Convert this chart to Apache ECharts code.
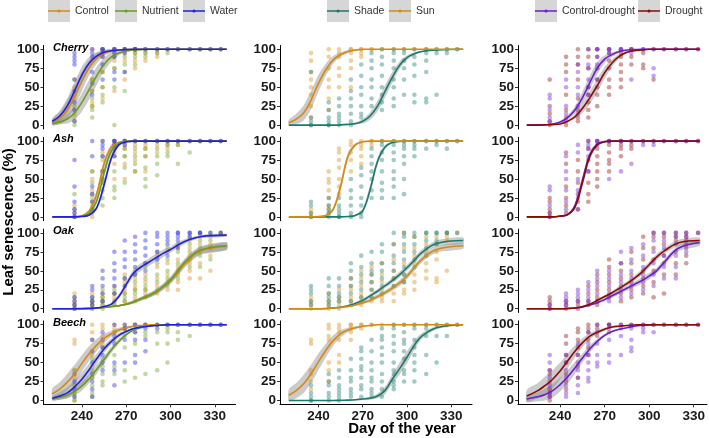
<!DOCTYPE html>
<html><head><meta charset="utf-8">
<script src="https://cdn.jsdelivr.net/npm/echarts@6/dist/echarts.min.js"></script>
<style>html,body{margin:0;padding:0;background:#fff}#c{width:709px;height:438px}</style>
</head><body><div id="c"></div><script>
// ---------- DATA ----------
const rowNames = ['Cherry', 'Ash', 'Oak', 'Beech'];
const xTicks = [240, 270, 300, 330];
const yTicks = [0, 25, 50, 75, 100];
const obsDays = [235, 247, 254, 262, 269, 276, 283, 291, 298, 305, 313, 320, 327, 334];
const obsDaysDrought = [233, 244, 252, 259, 265, 273, 281, 288, 296, 303, 310, 318, 325, 333];
const curveDays = [220, 225, 230, 235, 240, 245, 250, 255, 260, 265, 270, 275, 280, 285, 290, 295, 300, 305, 310, 320, 338];
const curveDaysDrought = [217.5, 225, 230, 235, 240, 245, 250, 255, 260, 265, 270, 275, 280, 285, 290, 295, 300, 305, 310, 320, 334];

// fitted curves (mid) and half-width of confidence band
const cherryControlFit = [4,9,20,38,58,76,88,95,98,99,99.7,100,100,100,100,100,100,100,100,100,100];
const cherryControlBand = [4,8,12,14,13,10,7,4,2,1,0.5,0.3,0,0,0,0,0,0,0,0,0];
const cherryNutrientFit = [2,4,8,16,30,47,65,80,90,95,98,99,99.6,100,100,100,100,100,100,100,100];
const cherryNutrientBand = [2,3,6,9,12,13,12,9,6,3,2,1,0.5,0,0,0,0,0,0,0,0];
const cherryWaterFit = [5,12,25,45,66,82,91,96,98,99,99.7,100,100,100,100,100,100,100,100,100,100];
const cherryWaterBand = [4,7,10,12,11,8,5,3,2,1,0.5,0.3,0,0,0,0,0,0,0,0,0];
const ashControlFit = [0,0,0,0.2,1.5,8,30,70,92,98,99.6,100,100,100,100,100,100,100,100,100,100];
const ashControlBand = [0,0,0,0,0.5,2,5,6,4,1.5,0.5,0,0,0,0,0,0,0,0,0,0];
const ashNutrientFit = [0,0,0,0.1,1,5,21,58,87,97,99.5,100,100,100,100,100,100,100,100,100,100];
const ashNutrientBand = [0,0,0,0,0.3,1.5,4,6,4,1.5,0.5,0,0,0,0,0,0,0,0,0,0];
const ashWaterFit = [0,0,0,0,0.5,2.5,12,42,78,95,99,100,100,100,100,100,100,100,100,100,100];
const ashWaterBand = [0,0,0,0,0.3,1,3,6,5,2,1,0,0,0,0,0,0,0,0,0,0];
const oakControlFit = [0,0,0,0,0.3,0.5,1,1.5,3,4,6,9,13,17,22,29,37,48,60,76,82];
const oakControlBand = [0,0,0,0,0,0,0.3,0.5,1,1,1.5,2,2.5,3,3.5,4,4.5,5,5,5,5];
const oakNutrientFit = [0,0,0,0,0.3,0.5,1,1.5,3,4,6,9,13,17,22,29,38,50,62,77,83];
const oakNutrientBand = [0,0,0,0,0,0,0.3,0.5,1,1,1.5,2,2.5,3,3.5,4,4.5,5,5,5,5];
const oakWaterFit = [0,0,0,0,0,0.3,1,3,6,16,32,47,55,61,67,73,78,84,89,95,97];
const oakWaterBand = [0,0,0,0,0,0.3,0.5,1,2,3,4,5,5,5,5,5,4,4,3,2,2];
const beechControlFit = [9,15,24,35,49,62,73,82,88,93,96,98,99,99.5,100,100,100,100,100,100,100];
const beechControlBand = [7,9,11,12,11,10,8,6,4,3,2,1,0.5,0,0,0,0,0,0,0,0];
const beechNutrientFit = [2,4,7,12,19,29,41,54,67,78,87,93,96,98,99,99.5,100,100,100,100,100];
const beechNutrientBand = [2,3,4,5,6,6,6,5,4,3,2,1,0.5,0,0,0,0,0,0,0,0];
const beechWaterFit = [3,6,10,18,28,41,55,68,78,86,91,95,97,98,99,99.5,100,100,100,100,100];
const beechWaterBand = [3,5,7,8,9,8,7,5,4,3,2,1,0.5,0,0,0,0,0,0,0,0];

const cherrySunFit = [3,8,16,33,55,73,86,93,97,99,100,100,100,100,100,100,100,100,100,100,100];
const cherrySunBand = [4,7,10,12,11,8,5,3,2,1,0.5,0,0,0,0,0,0,0,0,0,0];
const cherryShadeFit = [0,0,0,0,0,0,0,0.3,1,2,5,12,25,44,63,79,89,94,97,99,100];
const cherryShadeBand = [0,0,0,0,0,0,0,0.3,0.5,1,3,5,7,8,7,5,3,2,1,0.5,0.3];
const ashSunFit = [0,0,0,0,0.5,2,10,40,80,95,99,100,100,100,100,100,100,100,100,100,100];
const ashSunBand = [0,0,0,0,0.3,1,3,6,5,2,1,0,0,0,0,0,0,0,0,0,0];
const ashShadeFit = [0,0,0,0,0,0,0,0,0.5,2,8,36,73,92,98,99.5,100,100,100,100,100];
const ashShadeBand = [0,0,0,0,0,0,0,0,0.3,1,3,6,5,3,1,0.5,0,0,0,0,0];
const oakSunFit = [0,0,0,0,0,0,1,1.5,3,5,8,11,16,21,27,34,43,54,65,78,83];
const oakSunBand = [0,0,0,0,0,0,0.3,0.5,1,1.5,2,2.5,3,3,3.5,4,4,4,4,4,4];
const oakShadeFit = [0,0,0,0,0,0.3,1,2,4,7,11,17,23,30,37,45,54,64,74,86,90];
const oakShadeBand = [0,0,0,0,0,0,0.3,0.5,1,1.5,2,2.5,3,3,3.5,4,4,4,4,4,4];
const beechSunFit = [7,13,22,35,51,66,79,88,93,96,98,99,100,100,100,100,100,100,100,100,100];
const beechSunBand = [8,10,12,12,11,9,7,5,3,2,1,0.5,0,0,0,0,0,0,0,0,0];
const beechShadeFit = [0,0,0,0,0,0,0,0.3,0.5,1,2,3,6,13,28,42,57,73,85,96,100];
const beechShadeBand = [0,0,0,0,0,0,0,0.3,0.5,1,1.5,2,3,5,6,8,8,6,4,2,0.5];

const cherryCDFit = [0,0.3,0.5,1.5,4,10,20,36,56,75,87,93,97,99,99.5,100,100,100,100,100,100];
const cherryCDBand = [0,0,0,0.5,1,3,5,8,9,8,5,3,1.5,0.5,0,0,0,0,0,0,0];
const cherryDFit = [0,0,0.3,0.7,1.5,5,11,22,36,52,69,82,91,96,98,99,100,100,100,100,100];
const cherryDBand = [0,0,0,0,0.5,1.5,3,6,8,9,8,5,3,1.5,0.5,0,0,0,0,0,0];
const ashCDFit = [0,0,0,0,1,3,15,48,82,96,99.5,100,100,100,100,100,100,100,100,100,100];
const ashCDBand = [0,0,0,0,0.5,1,3,6,5,2,1,0,0,0,0,0,0,0,0,0,0];
const ashDFit = [0,0,0,0,1,3,13,45,80,95,99,100,100,100,100,100,100,100,100,100,100];
const ashDBand = [0,0,0,0,0.5,1,3,6,5,2,1,0,0,0,0,0,0,0,0,0,0];
const oakCDFit = [0,0,0,0,0,0.3,1,2,5,8,12,17,22,27,32,37,43,50,61,80,87];
const oakCDBand = [0,0,0,0,0,0,0.3,0.5,1,1.5,2,2.5,3,3,3.5,4,4,4,4,4,4];
const oakDFit = [0,0,0,0,0,0.3,1,3,6,11,16,21,27,33,40,48,58,68,76,87,90];
const oakDBand = [0,0,0,0,0,0,0.3,0.5,1,1.5,2,2.5,3,3,3.5,4,4,4,4,4,4];
const beechCDFit = [2,5,8,13,21,31,43,56,68,78,86,91,94,96,98,99,99.5,100,100,100,100];
const beechCDBand = [4,6,8,9,9,9,8,6,5,3,2,1,0.5,0,0,0,0,0,0,0,0];
const beechDFit = [6,13,20,28,39,52,65,76,85,90,94,97,98,99,99.5,100,100,100,100,100,100];
const beechDBand = [8,10,12,12,11,10,8,6,4,3,2,1,0.5,0,0,0,0,0,0,0,0];

// observations: one list of values per observation day
const cherryControlObs = [[60,50,35,20,10],[100,85,60,45,30,25],[100,90,70,50,35],[100,95,85,75,45],[100,95,85,60],[100,95,85,75],[100,95,85],[100,95,90],[100],[100],[100],[100],[100],[100]];
const cherryNutrientObs = [[40,25,15,5,0],[60,45,35,25,20,10],[100,70,50,40,30],[100,90,75,50,0],[100,90,80,70,45],[100,95,90,80],[100,95,90],[100,95],[100,95],[100],[100],[100],[100],[100]];
const cherryWaterObs = [[95,90,85,80,60,45,30,20,5],[100,95,90,70,55,40],[100,100,95,90,80,60],[100,100,95,90,70,60],[100,100,95,70],[100,100,100],[100],[100],[100],[100],[100],[100],[100],[100]];
const ashControlObs = [[15,5,0],[60,50,35,25,15,0],[100,85,75,60,45],[100,95,85,70,50],[100,95,90,80,70,50],[100,95,85,75,60],[100,95,90,80,60],[100,95,85],[100,95,90],[100,95],[100],[100],[100],[100]];
const ashNutrientObs = [[30,10,0],[60,45,30,20,10,5],[80,60,45,35,25,15],[100,80,60,40,35,25],[100,90,80,65,45],[100,90,80,70,60],[100,90,80,65,50,40],[100,90,80,70,55],[100,95,85,80],[100,95,70],[100,85],[100],[100],[100]];
const ashWaterObs = [[75,40,20,10,5,0],[100,80,40,30,20,10],[100,95,90,80,60,50],[100,100,95,90,80],[100,100,95],[100],[100],[100],[100],[100],[100],[100],[100],[100]];
const oakControlObs = [[20,10,5,0],[20,10,5,0],[20,15,10,5],[30,20,15,10,5],[45,35,25,20,10],[50,40,30,25,15],[60,45,35,25,20],[70,55,40,30,20],[75,60,45,35,25],[80,65,55,45,35,25],[90,80,70,60,50,40],[95,85,75,60,40],[95,85,70,50],[100]];
const oakNutrientObs = [[15,5,0],[15,10,5,0],[25,15,10,5,0],[25,20,10,5],[40,30,20,15,10],[45,35,25,20,10],[55,40,30,25,15],[75,60,45,35,25],[80,65,50,40,30],[85,75,60,50,40],[95,85,75,65,55],[100,90,80,70,55],[100,90,80,65],[100]];
const oakWaterObs = [[15,10,5,0],[30,25,15,10,5],[50,40,30,20,10],[75,60,50,40,30,20],[90,75,65,55,40,30],[95,85,75,65,55,45],[100,90,80,70,60,50],[100,95,85,75,65],[100,95,90,85,70],[100,100,95,90,80],[100,100,95],[100,100],[100],[100]];
const beechControlObs = [[80,75,40,30,20,10,0],[100,90,80,60,45,30],[100,95,85,75],[100,95,90],[100,95],[100],[100],[100],[100],[100],[100],[100],[100],[100]];
const beechNutrientObs = [[40,20,10,5,0],[55,40,30,20,10,5],[70,55,45,35,25,20],[90,80,60,45,35],[95,85,70,40,25],[100,90,75,30],[100,90,85,35],[100,90,75,40],[100,95,90,75,50],[100,90,80],[100,85],[100],[100],[100]];
const beechWaterObs = [[35,25,15,5],[80,65,50,35,25,15,5],[90,80,70,60,50,40],[100,85,75,50,40,20],[100,95,80,50],[100,90,80,60,50],[100,95,80,65],[100,95],[100],[100],[100],[100],[100],[100]];

const cherrySunObs = [[95,85,70,60,50,40,25,10],[100,90,75,60,50,35,20],[100,95,90,75,65,50],[100,100,95,85,75,50],[100,100,95,90],[100,100],[100],[100],[100],[100],[100],[100],[100],[100]];
const cherryShadeObs = [[70,10,5,0,0],[30,20,10,5,0,0],[35,25,15,10,5,0],[60,45,35,25,15,5,0],[80,65,50,40,25,15,10],[95,85,75,60,50,35,25],[100,90,80,65,50,40,30,20],[100,95,85,75,60,50,35,25],[100,95,85,75,60,40],[100,90,80,65,40,30],[100,95,85,70,35,30],[100,95,40],[100,95],[100]];
const ashSunObs = [[10,5,0],[60,50,45,35,25,15,10,5],[90,85,75,65,50,40,30],[100,95,85,75,60],[100,95,90,80,70],[100,100,95],[100],[100],[100],[100],[100],[100],[100],[100]];
const ashShadeObs = [[20,15,5,0],[25,15,10,5,0],[25,15,10,5,0,0],[50,35,25,15,5,0],[65,55,40,25,15,5,0],[90,80,70,60,50,35,25],[100,95,85,75,60,45,35,25],[100,95,85,75,60,50,40,25],[100,95,90,80,70,50,30],[100,95,90,80],[100,90],[100,95],[100,90],[100]];
const oakSunObs = [[15,10,5,0],[20,10,5,0],[25,15,10,5,0],[40,30,25,15,10,5],[50,40,30,20,15,10,5],[55,45,35,25,15,10],[60,45,35,25,15,10],[85,65,50,40,30,20,10],[100,80,60,45,35,25,20],[95,80,70,60,45,35,25],[95,85,75,60,50,40],[95,85,75,65,40,35],[100,95,90,50],[100]];
const oakShadeObs = [[30,25,20,10,5],[40,30,20,15,10,5],[40,30,20,15,10],[60,50,40,30,20,10],[70,55,45,35,25,15],[75,60,50,45,35,25,15],[85,75,60,50,40,30,20],[100,85,70,60,50,40,30],[100,95,85,75,65,55,45,35],[100,95,85,75,65,55],[100,100,90,80,70],[100,100,90,85],[100,100],[100]];
const beechSunObs = [[80,75,40,35,25,15],[100,95,85,80,50,40,25],[100,95,90,80,60,50],[100,100,95,90,80],[100,100,95],[100,100],[100],[100],[100],[100],[100],[100],[100],[100]];
const beechShadeObs = [[20,10,5,0,0],[35,25,20,10,5,0],[40,30,20,15,10,5,0],[55,40,30,25,15,10,5],[70,65,55,45,40,30,20,15,5],[80,65,50,40,30,25,15,10,5],[95,85,80,70,60,50,35,25,15,5],[100,95,85,75,65,50,40,35,25,20,15],[100,90,80,75,65,55,40,35,25],[100,95,80,70,60,50,40,25],[100,95,85,60,35],[100,85,50],[100,85],[100]];

const cherryCDObs = [[40,35,20,10,5],[60,50,25,15,5],[80,70,50,40,25,15],[100,80,75,60,50,40],[100,100,90,80,60],[100,100,95],[100,100],[100,95,60],[100],[100,75,65],[100],[100],[100],[100]];
const cherryDObs = [[60,25,15,5,0],[90,80,70,40,20,10,0],[100,90,80,60,35,20,10,5],[100,90,75,50,40,30,20,10],[100,90,75,60,50,40,25],[100,95,85,75,60,50,40],[100,95,90,80,70,60,50],[100,100,90,80],[100,95,80,75],[100,60],[100],[100],[100],[100]];
const ashCDObs = [[40,35,15,5,0],[80,60,50,35,20,10],[95,85,50,35,25,10],[100,95,90,80,60],[100,100,95],[100,100,50],[100,100,60],[100,70],[100,95],[100,95],[100],[100],[100],[100]];
const ashDObs = [[25,20,10,5,0],[85,70,40,25,15,5],[75,60,45,30,20,10],[100,90,75,60,45,30,20],[100,90,80,70,60,50,40],[100,95,85,75,70,60],[100,95,90,80],[100,95,90],[100],[100],[100],[100],[100],[100]];
const oakCDObs = [[5,0],[20,15,10,5],[25,20,15,10],[35,25,15,10],[50,40,30,20,10],[50,40,30,20,10],[75,60,45,35,25,15],[80,65,50,40,30,20],[85,70,55,45,35,25],[100,90,75,60,45,30],[100,90,80,70,55,40],[100,95,85,70,55,40],[100,95,85,75],[100]];
const oakDObs = [[15,10,5,0],[10,5,0],[10,5,0],[30,20,10,5],[45,35,25,15,10,5],[65,55,45,35,25,15],[60,50,40,30,20,10],[75,60,45,35,25,15],[95,80,65,50,40,30,20],[100,95,80,65,50,35,15],[100,95,85,70,60,45,20],[100,95,90,75,60,45],[100,95,90,80,70,60],[100]];
const beechCDObs = [[60,50,40,30,20,10,5],[60,50,40,30,20,10,5],[75,60,50,40,30,20,10],[90,75,60,50,40,30,25],[100,90,75,60,50,45],[100,95,80,60,50],[100,95,85,60],[100,95,80,70,65],[100,95,90],[100,90],[100],[100],[100],[100]];
const beechDObs = [[40,35,25,15,10,5,0],[85,75,60,50,35,25,15],[95,90,80,70,60,45,30],[100,95,90,80,70,60],[100,95,85],[100,100,90],[100],[100],[100],[100],[100],[100],[100],[100]];

// ---------- PANEL STRUCTURE ----------
const panels = [
  {row:0,col:0,groups:[['Control',cherryControlFit,cherryControlBand,cherryControlObs],['Nutrient',cherryNutrientFit,cherryNutrientBand,cherryNutrientObs],['Water',cherryWaterFit,cherryWaterBand,cherryWaterObs]]},
  {row:0,col:1,groups:[['Shade',cherryShadeFit,cherryShadeBand,cherryShadeObs],['Sun',cherrySunFit,cherrySunBand,cherrySunObs]]},
  {row:0,col:2,groups:[['Control-drought',cherryCDFit,cherryCDBand,cherryCDObs],['Drought',cherryDFit,cherryDBand,cherryDObs]]},
  {row:1,col:0,groups:[['Control',ashControlFit,ashControlBand,ashControlObs],['Nutrient',ashNutrientFit,ashNutrientBand,ashNutrientObs],['Water',ashWaterFit,ashWaterBand,ashWaterObs]]},
  {row:1,col:1,groups:[['Shade',ashShadeFit,ashShadeBand,ashShadeObs],['Sun',ashSunFit,ashSunBand,ashSunObs]]},
  {row:1,col:2,groups:[['Control-drought',ashCDFit,ashCDBand,ashCDObs],['Drought',ashDFit,ashDBand,ashDObs]]},
  {row:2,col:0,groups:[['Control',oakControlFit,oakControlBand,oakControlObs],['Nutrient',oakNutrientFit,oakNutrientBand,oakNutrientObs],['Water',oakWaterFit,oakWaterBand,oakWaterObs]]},
  {row:2,col:1,groups:[['Shade',oakShadeFit,oakShadeBand,oakShadeObs],['Sun',oakSunFit,oakSunBand,oakSunObs]]},
  {row:2,col:2,groups:[['Control-drought',oakCDFit,oakCDBand,oakCDObs],['Drought',oakDFit,oakDBand,oakDObs]]},
  {row:3,col:0,groups:[['Control',beechControlFit,beechControlBand,beechControlObs],['Nutrient',beechNutrientFit,beechNutrientBand,beechNutrientObs],['Water',beechWaterFit,beechWaterBand,beechWaterObs]]},
  {row:3,col:1,groups:[['Shade',beechShadeFit,beechShadeBand,beechShadeObs],['Sun',beechSunFit,beechSunBand,beechSunObs]]},
  {row:3,col:2,groups:[['Control-drought',beechCDFit,beechCDBand,beechCDObs],['Drought',beechDFit,beechDBand,beechDObs]]}
];

// ---------- STYLE / LAYOUT ----------
const FONT = '"Liberation Sans", Arial, Helvetica, sans-serif';
const colors = {'Control':'#D68A10','Nutrient':'#6A9E1F','Water':'#1F1FE6','Shade':'#1A7A6C','Sun':'#D68A10','Control-drought':'#6A1BD6','Drought':'#8B0A0A'};
const colLeft = [43.5, 280, 518];
const colWidth = [192, 192, 189];
const colXMin = [214, 214, 211.6];
const colXMax = [344, 344, 339];
const rowTop = [45.5, 137.3, 229.1, 320.9];
const rowHeight = 83.4;
const reverseObsOrder = [false, true, true];
const legendLayout = [['Control',48],['Nutrient',115],['Water',183],['Shade',327],['Sun',389],['Control-drought',535],['Drought',638]];
const LEG_ICON = 'path://M0,0.9L22,0.9L22,2.3L0,2.3Z M9.4,1.6A1.6,1.6,0,1,1,12.6,1.6A1.6,1.6,0,1,1,9.4,1.6Z';
const BAND_FILL = 'rgba(130,130,130,0.42)';
const TICK_FONT = 13.5;

const grid = [], xAxis = [], yAxis = [], series = [];
panels.forEach((p, i) => {
  const r = p.row, c = p.col;
  const oDays = c === 2 ? obsDaysDrought : obsDays;
  const cDays = c === 2 ? curveDaysDrought : curveDays;
  grid.push({left: colLeft[c], top: rowTop[r], width: colWidth[c], height: rowHeight});
  xAxis.push({
    type: 'value', gridIndex: i, min: colXMin[c], max: colXMax[c], show: r === 3,
    axisLine: {show: true, onZero: false, lineStyle: {color: '#000', width: 1}},
    axisTick: {show: true, length: 3, customValues: xTicks, lineStyle: {color: '#333'}},
    axisLabel: {customValues: xTicks, fontSize: TICK_FONT, fontWeight: 'bold', color: '#1a1a1a', margin: 5, fontFamily: FONT},
    splitLine: {show: false}
  });
  yAxis.push({
    type: 'value', gridIndex: i, min: -5, max: 105,
    axisLine: {show: true, onZero: false, lineStyle: {color: '#000', width: 1}},
    axisTick: {show: true, length: 3, customValues: yTicks, lineStyle: {color: '#333'}},
    axisLabel: {customValues: yTicks, fontSize: TICK_FONT, fontWeight: 'bold', color: '#1a1a1a', margin: 4, fontFamily: FONT},
    splitLine: {show: false}
  });
  // confidence bands
  p.groups.forEach((g) => {
    const [name, fit, band] = g;
    series.push({
      type: 'custom', xAxisIndex: i, yAxisIndex: i, clip: true, silent: true, z: 1,
      data: [[cDays[0], fit[0]]],
      renderItem: (params, api) => {
        const up = cDays.map((d, k) => api.coord([d, fit[k] + band[k]]));
        const lo = cDays.map((d, k) => api.coord([d, fit[k] - band[k]])).reverse();
        return {type: 'polygon', shape: {points: up.concat(lo), smooth: 0.25}, style: {fill: BAND_FILL}};
      }
    });
  });
  // observations
  const obsGroups = reverseObsOrder[c] ? p.groups.slice().reverse() : p.groups;
  obsGroups.forEach((g) => {
    const [name, fit, band, obs] = g;
    const col = colors[name];
    const pts = [];
    oDays.forEach((d, k) => obs[k].forEach(v => pts.push([d, v])));
    series.push({type: 'scatter', name: name + ' (obs)', xAxisIndex: i, yAxisIndex: i, data: pts,
      symbolSize: 4.6, itemStyle: {color: col, opacity: 0.4}, silent: true, z: 2});
  });
  // fitted curves
  p.groups.forEach((g) => {
    const [name, fit] = g;
    const col = colors[name];
    series.push({type: 'line', name: name, xAxisIndex: i, yAxisIndex: i,
      data: cDays.map((d, k) => [d, fit[k]]), symbol: 'none', smooth: 0.4,
      lineStyle: {color: col, width: 1.6}, itemStyle: {color: col}, silent: true, z: 3});
  });
});

const legend = legendLayout.map(([name, left]) => ({
  left: left, top: 0, padding: 0, itemWidth: 22, itemHeight: 3.2, itemGap: 0, selectedMode: false,
  itemStyle: {borderWidth: 0},
  data: [{name: name, icon: LEG_ICON}],
  textStyle: {fontSize: 10.5, color: '#333', lineHeight: 22, fontFamily: FONT}
}));

const title = rowNames.map((n, r) => ({
  text: n, left: 53, top: rowTop[r] - 3.5, padding: 0,
  textStyle: {fontSize: 11, fontWeight: 'bold', fontStyle: 'italic', color: '#000', fontFamily: FONT}
}));

const graphic = legendLayout.map(([name, left]) => ({
  type: 'rect', shape: {x: left, y: 0, width: 22, height: 22}, style: {fill: '#d6d6d6'}, z: 0, silent: true
})).concat([
  {type: 'text', x: 9, y: 222, rotation: Math.PI / 2, silent: true,
   style: {text: 'Leaf senescence (%)', fontSize: 15, fontWeight: 'bold', fontFamily: FONT, fill: '#000', align: 'center', verticalAlign: 'middle'}},
  {type: 'text', x: 402, y: 429, silent: true,
   style: {text: 'Day of the year', fontSize: 15, fontWeight: 'bold', fontFamily: FONT, fill: '#000', align: 'center', verticalAlign: 'middle'}}
]);

const chart = echarts.init(document.getElementById('c'), null, {renderer: 'canvas'});
chart.setOption({
  animation: false, backgroundColor: '#fff',
  title, legend, grid, xAxis, yAxis, series, graphic
});
</script></body></html>
